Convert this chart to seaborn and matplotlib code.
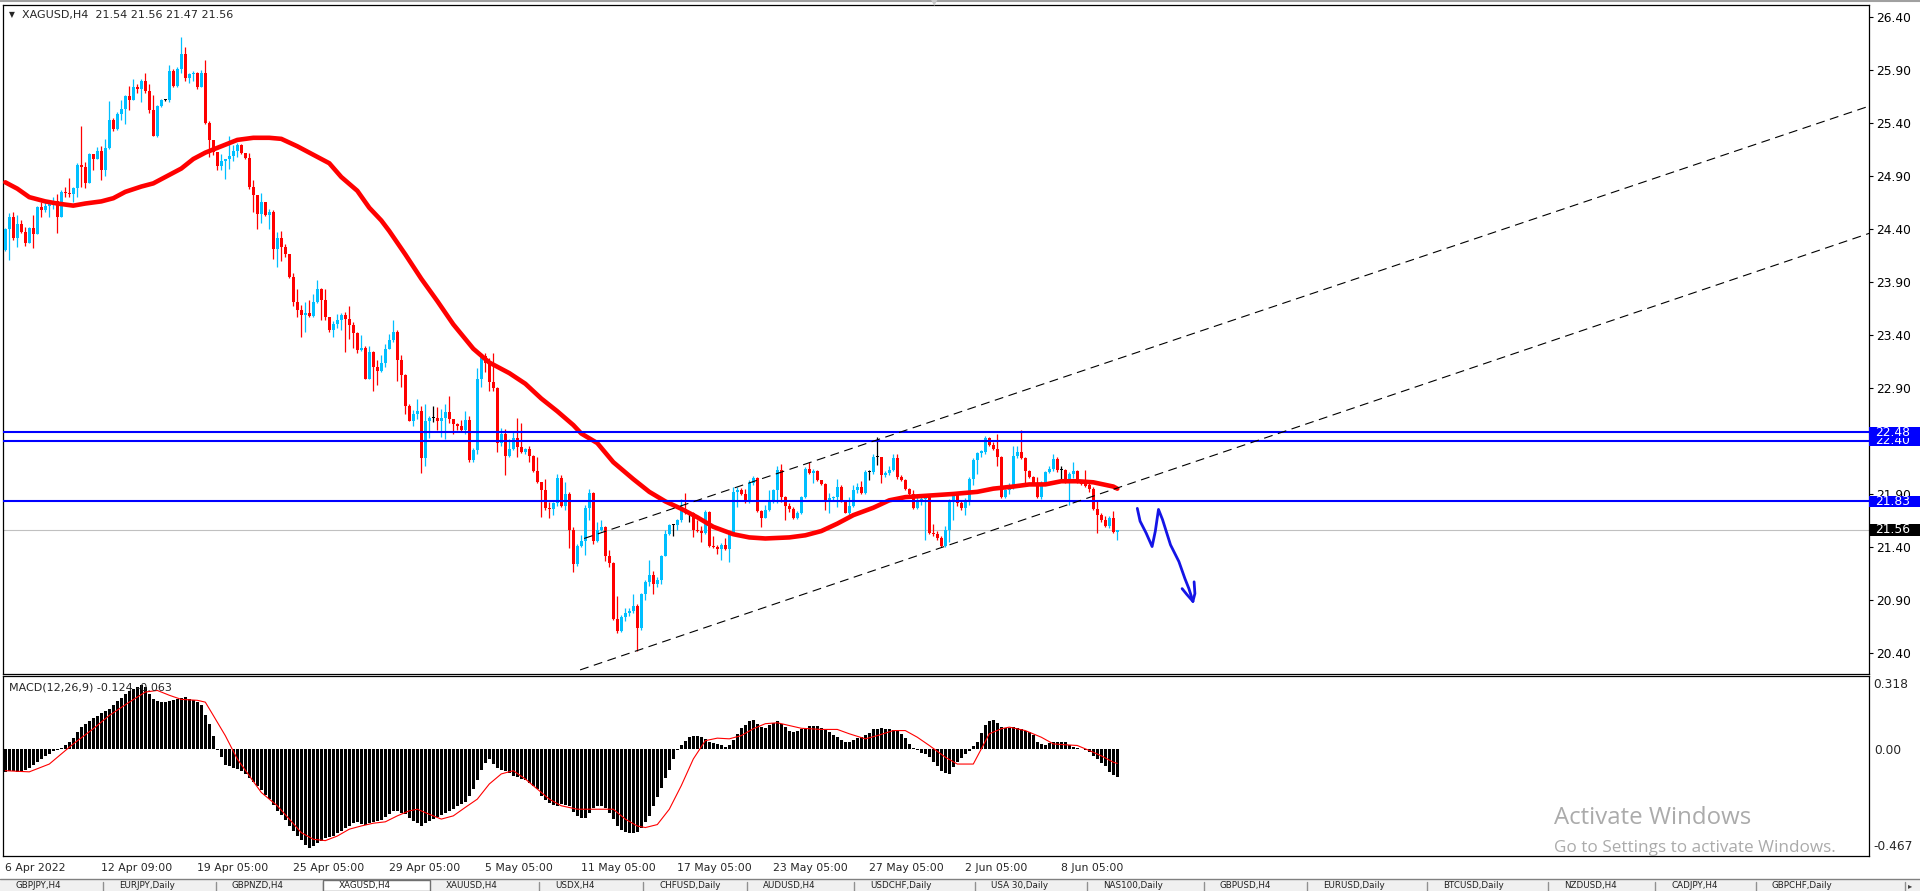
import numpy as np
import matplotlib
matplotlib.use("Agg")
import matplotlib.pyplot as plt
import matplotlib.transforms as mtransforms
from matplotlib.patches import Rectangle
from matplotlib.lines import Line2D
import seaborn as sns

# ---------------- data (XAGUSD H4, bar 0 = 6 Apr 2022) ----------------
first_open = 24.20
closes = [
    24.40, 24.51, 24.31, 24.45, 24.37, 24.27, 24.41, 24.35, 24.61, 24.58,
    24.62, 24.65, 24.66, 24.51, 24.75, 24.74, 24.73, 24.79, 25.00, 24.98,
    24.83, 25.11, 25.06, 25.14, 24.96, 25.16, 25.43, 25.34, 25.48, 25.53,
    25.65, 25.62, 25.74, 25.72, 25.80, 25.70, 25.52, 25.28, 25.56, 25.62,
    25.62, 25.89, 25.75, 25.91, 26.05, 25.82, 25.86, 25.87, 25.74, 25.87,
    25.40, 25.24, 25.13, 24.99, 25.04, 25.06, 25.09, 25.14, 25.19, 25.12,
    25.07, 24.80, 24.72, 24.54, 24.65, 24.53, 24.56, 24.21, 24.31, 24.23,
    24.16, 23.95, 23.71, 23.64, 23.59, 23.61, 23.58, 23.71, 23.83, 23.73,
    23.57, 23.45, 23.50, 23.54, 23.59, 23.55, 23.49, 23.42, 23.26, 23.28,
    22.98, 23.24, 23.10, 23.06, 23.14, 23.27, 23.35, 23.43, 23.16, 23.02,
    22.73, 22.59, 22.65, 22.68, 22.24, 22.59, 22.62, 22.62, 22.59, 22.62,
    22.67, 22.61, 22.56, 22.54, 22.50, 22.60, 22.22, 22.31, 22.98, 23.20,
    23.14, 22.96, 22.90, 22.38, 22.47, 22.26, 22.32, 22.43, 22.34, 22.30,
    22.32, 22.26, 22.12, 22.01, 21.94, 21.77, 21.76, 21.81, 22.05, 21.79,
    21.90, 21.56, 21.24, 21.41, 21.46, 21.77, 21.91, 21.46, 21.56, 21.59,
    21.31, 21.25, 20.72, 20.61, 20.74, 20.78, 20.80, 20.84, 20.64, 20.96,
    21.07, 21.14, 21.05, 21.09, 21.31, 21.52, 21.61, 21.61, 21.65, 21.76,
    21.72, 21.72, 21.56, 21.55, 21.53, 21.73, 21.41, 21.40, 21.38, 21.42,
    21.38, 21.52, 21.92, 21.94, 21.90, 21.82, 22.00, 22.05, 21.74, 21.67,
    21.75, 21.82, 21.94, 22.13, 21.87, 21.79, 21.76, 21.67, 21.72, 21.87,
    22.14, 22.10, 22.12, 22.03, 21.99, 21.84, 21.86, 21.87, 21.97, 21.82,
    21.72, 21.79, 21.94, 21.97, 21.91, 22.11, 22.11, 22.25, 22.25, 22.08,
    22.10, 22.13, 22.24, 22.06, 22.03, 21.95, 21.90, 21.77, 21.83, 21.85,
    21.87, 21.53, 21.52, 21.48, 21.41, 21.56, 21.84, 21.91, 21.81, 21.77,
    21.84, 22.04, 22.22, 22.29, 22.30, 22.43, 22.36, 22.32, 22.25, 21.87,
    21.94, 21.97, 22.26, 22.30, 22.24, 22.12, 22.06, 22.00, 21.87, 22.00,
    22.11, 22.14, 22.23, 22.13, 22.13, 22.02, 22.09, 22.12, 22.01, 21.99,
    21.98, 21.95, 21.76, 21.70, 21.65, 21.60, 21.67, 21.54, 21.56,
]
highs = [
    24.41, 24.55, 24.56, 24.53, 24.48, 24.42, 24.42, 24.53, 24.62, 24.65,
    24.67, 24.67, 24.70, 24.73, 24.77, 24.80, 24.88, 24.80, 25.02, 25.37,
    25.03, 25.12, 25.11, 25.17, 25.18, 25.25, 25.61, 25.45, 25.50, 25.62,
    25.66, 25.75, 25.81, 25.77, 25.81, 25.87, 25.77, 25.66, 25.57, 25.63,
    25.63, 25.95, 25.91, 25.93, 26.21, 26.12, 25.87, 25.89, 25.88, 25.90,
    25.99, 25.42, 25.24, 25.13, 25.11, 25.06, 25.28, 25.19, 25.21, 25.20,
    25.12, 25.12, 24.86, 24.72, 24.74, 24.65, 24.59, 24.58, 24.37, 24.38,
    24.26, 24.16, 23.98, 23.83, 23.68, 23.71, 23.73, 23.79, 23.92, 23.84,
    23.83, 23.57, 23.53, 23.60, 23.61, 23.62, 23.67, 23.52, 23.43, 23.40,
    23.30, 23.30, 23.25, 23.16, 23.21, 23.31, 23.41, 23.54, 23.45, 23.21,
    23.03, 22.75, 22.69, 22.80, 22.73, 22.75, 22.64, 22.73, 22.72, 22.70,
    22.75, 22.82, 22.61, 22.57, 22.60, 22.68, 22.64, 22.33, 23.09, 23.23,
    23.23, 23.18, 23.23, 22.91, 22.52, 22.51, 22.42, 22.49, 22.62, 22.57,
    22.33, 22.35, 22.27, 22.25, 22.01, 22.04, 21.82, 21.82, 22.09, 22.08,
    22.01, 21.92, 21.59, 21.43, 21.51, 21.80, 21.95, 21.92, 21.64, 21.65,
    21.60, 21.37, 21.26, 20.94, 20.76, 20.82, 20.82, 20.96, 20.86, 20.97,
    21.09, 21.28, 21.17, 21.12, 21.32, 21.56, 21.62, 21.62, 21.66, 21.85,
    21.91, 21.73, 21.73, 21.65, 21.60, 21.75, 21.74, 21.50, 21.42, 21.44,
    21.48, 21.53, 21.97, 21.97, 21.96, 21.95, 22.03, 22.07, 22.06, 21.75,
    21.80, 21.94, 21.95, 22.16, 22.18, 21.88, 21.81, 21.78, 21.74, 21.88,
    22.15, 22.20, 22.14, 22.13, 22.03, 22.00, 21.91, 21.88, 22.04, 21.98,
    21.84, 21.87, 21.98, 22.00, 22.02, 22.13, 22.13, 22.28, 22.44, 22.25,
    22.12, 22.16, 22.28, 22.28, 22.08, 22.04, 21.96, 21.94, 21.87, 21.87,
    21.88, 21.87, 21.62, 21.55, 21.50, 21.60, 21.85, 21.92, 21.92, 21.84,
    21.86, 22.06, 22.24, 22.30, 22.31, 22.45, 22.44, 22.39, 22.47, 22.26,
    21.95, 22.00, 22.35, 22.35, 22.50, 22.25, 22.13, 22.07, 22.06, 22.02,
    22.12, 22.16, 22.28, 22.25, 22.16, 22.14, 22.11, 22.20, 22.13, 22.03,
    22.13, 22.00, 21.97, 21.83, 21.72, 21.69, 21.69, 21.74, 21.56,
]
lows = [
    24.19, 24.11, 24.30, 24.23, 24.36, 24.24, 24.27, 24.22, 24.35, 24.51,
    24.56, 24.51, 24.59, 24.36, 24.53, 24.70, 24.70, 24.65, 24.70, 24.80,
    24.79, 24.83, 24.96, 25.06, 24.86, 24.90, 25.15, 25.32, 25.33, 25.43,
    25.39, 25.52, 25.62, 25.68, 25.60, 25.68, 25.49, 25.28, 25.27, 25.55,
    25.61, 25.60, 25.74, 25.74, 25.87, 25.80, 25.78, 25.80, 25.72, 25.74,
    25.39, 25.08, 25.10, 24.96, 24.96, 24.87, 24.97, 25.04, 25.08, 25.11,
    25.06, 24.78, 24.56, 24.40, 24.46, 24.52, 24.40, 24.12, 24.04, 24.10,
    24.14, 23.94, 23.67, 23.57, 23.38, 23.43, 23.57, 23.57, 23.70, 23.54,
    23.54, 23.43, 23.38, 23.47, 23.45, 23.24, 23.36, 23.28, 23.23, 23.25,
    22.98, 22.98, 22.87, 22.93, 23.05, 23.10, 23.27, 23.33, 22.97, 22.91,
    22.65, 22.59, 22.54, 22.61, 22.10, 22.16, 22.43, 22.58, 22.50, 22.44,
    22.42, 22.57, 22.47, 22.50, 22.49, 22.47, 22.20, 22.20, 22.28, 22.91,
    23.05, 22.87, 22.87, 22.30, 22.35, 22.08, 22.25, 22.31, 22.25, 22.29,
    22.28, 22.20, 22.11, 22.00, 21.68, 21.75, 21.67, 21.70, 21.79, 21.78,
    21.75, 21.39, 21.16, 21.22, 21.40, 21.32, 21.65, 21.43, 21.45, 21.55,
    21.27, 21.21, 20.71, 20.59, 20.60, 20.70, 20.75, 20.78, 20.42, 20.62,
    20.90, 21.03, 20.96, 21.02, 21.05, 21.31, 21.51, 21.50, 21.56, 21.64,
    21.71, 21.64, 21.49, 21.54, 21.45, 21.52, 21.40, 21.39, 21.33, 21.28,
    21.37, 21.26, 21.51, 21.78, 21.89, 21.81, 21.81, 21.98, 21.73, 21.59,
    21.67, 21.74, 21.81, 21.81, 21.82, 21.65, 21.73, 21.66, 21.66, 21.71,
    21.86, 22.09, 22.00, 22.02, 21.98, 21.75, 21.72, 21.84, 21.78, 21.82,
    21.72, 21.70, 21.78, 21.91, 21.90, 21.90, 22.03, 22.09, 22.17, 22.00,
    22.06, 22.08, 22.12, 22.04, 22.02, 21.94, 21.89, 21.76, 21.76, 21.80,
    21.47, 21.52, 21.50, 21.47, 21.40, 21.40, 21.45, 21.65, 21.79, 21.75,
    21.70, 21.80, 21.98, 22.09, 22.25, 22.28, 22.35, 22.31, 22.16, 21.86,
    21.86, 21.90, 21.95, 22.24, 22.23, 22.00, 22.05, 21.99, 21.86, 21.85,
    21.98, 22.10, 22.12, 22.11, 22.02, 22.00, 21.80, 22.05, 22.00, 21.98,
    21.97, 21.92, 21.75, 21.53, 21.64, 21.59, 21.58, 21.53, 21.47,
]

# thick red moving average, read at sample bars
ma_idx = [0, 3, 6, 10, 13, 17, 20, 24, 27, 30, 34, 37, 40, 44, 47, 50, 54, 58, 62, 66,
          69, 73, 77, 81, 84, 88, 91, 94, 96, 100, 104, 108, 112, 117, 121, 126, 130, 134,
          138, 142, 144, 148, 152, 157, 161, 165, 169, 173, 177, 182, 186, 190, 196, 200,
          204, 208, 212, 217, 221, 225, 229, 233, 237, 243, 247, 252, 256, 260, 264, 268,
          272, 277, 278]
ma_val = [24.84, 24.78, 24.70, 24.66, 24.64, 24.62, 24.64, 24.66, 24.69, 24.75, 24.80,
          24.83, 24.89, 24.97, 25.06, 25.12, 25.18, 25.24, 25.26, 25.26, 25.25, 25.18,
          25.10, 25.02, 24.89, 24.76, 24.60, 24.48, 24.38, 24.16, 23.93, 23.72, 23.50,
          23.27, 23.14, 23.04, 22.94, 22.80, 22.68, 22.55, 22.47, 22.38, 22.20, 22.04,
          21.92, 21.83, 21.76, 21.68, 21.59, 21.52, 21.49, 21.48, 21.49, 21.51, 21.55,
          21.62, 21.70, 21.77, 21.84, 21.87, 21.88, 21.89, 21.90, 21.92, 21.95, 21.97,
          21.99, 21.99, 22.02, 22.02, 22.01, 21.97, 21.95]

# MACD(12,26,9) histogram, one value per bar
macd_hist = [
    -0.100, -0.097, -0.096, -0.100, -0.097, -0.090, -0.082, -0.070, -0.057, -0.043,
    -0.032, -0.020, -0.010, -0.004, 0.003, 0.015, 0.030, 0.047, 0.072, 0.095,
    0.110, 0.123, 0.134, 0.142, 0.155, 0.166, 0.174, 0.192, 0.210, 0.223,
    0.238, 0.252, 0.262, 0.270, 0.277, 0.268, 0.240, 0.216, 0.209, 0.206,
    0.204, 0.209, 0.214, 0.219, 0.224, 0.225, 0.219, 0.214, 0.205, 0.190,
    0.150, 0.110, 0.055, -0.005, -0.035, -0.068, -0.076, -0.082, -0.087, -0.095,
    -0.108, -0.126, -0.145, -0.160, -0.180, -0.200, -0.220, -0.245, -0.270, -0.290,
    -0.310, -0.335, -0.358, -0.380, -0.398, -0.418, -0.430, -0.422, -0.412, -0.400,
    -0.390, -0.384, -0.378, -0.368, -0.358, -0.343, -0.334, -0.325, -0.320, -0.327,
    -0.330, -0.324, -0.320, -0.315, -0.308, -0.296, -0.285, -0.270, -0.272, -0.278,
    -0.285, -0.300, -0.316, -0.325, -0.336, -0.325, -0.316, -0.306, -0.295, -0.287,
    -0.279, -0.270, -0.263, -0.250, -0.240, -0.230, -0.205, -0.175, -0.135, -0.090,
    -0.060, -0.044, -0.065, -0.085, -0.090, -0.098, -0.105, -0.117, -0.122, -0.130,
    -0.137, -0.148, -0.160, -0.175, -0.205, -0.222, -0.238, -0.244, -0.248, -0.242,
    -0.244, -0.250, -0.275, -0.292, -0.300, -0.302, -0.280, -0.257, -0.248, -0.250,
    -0.256, -0.280, -0.305, -0.335, -0.355, -0.364, -0.368, -0.367, -0.362, -0.345,
    -0.318, -0.292, -0.250, -0.210, -0.170, -0.125, -0.090, -0.044, -0.005, 0.015,
    0.036, 0.050, 0.055, 0.055, 0.050, 0.043, 0.030, 0.027, 0.022, 0.016,
    0.010, 0.015, 0.040, 0.065, 0.090, 0.106, 0.120, 0.128, 0.108, 0.095,
    0.090, 0.105, 0.115, 0.120, 0.110, 0.095, 0.080, 0.075, 0.076, 0.087,
    0.093, 0.098, 0.102, 0.098, 0.092, 0.082, 0.072, 0.062, 0.053, 0.040,
    0.032, 0.032, 0.040, 0.047, 0.053, 0.060, 0.070, 0.085, 0.089, 0.090,
    0.089, 0.086, 0.081, 0.080, 0.065, 0.047, 0.020, 0.005, -0.006, -0.018,
    -0.024, -0.036, -0.055, -0.075, -0.095, -0.105, -0.109, -0.080, -0.055, -0.040,
    -0.022, -0.008, 0.012, 0.028, 0.070, 0.105, 0.120, 0.124, 0.115, 0.095,
    0.090, 0.090, 0.095, 0.090, 0.086, 0.080, 0.072, 0.062, 0.030, 0.020,
    0.018, 0.026, 0.030, 0.032, 0.032, 0.028, 0.018, 0.010, 0.004, 0.000,
    -0.005, -0.012, -0.030, -0.044, -0.060, -0.075, -0.100, -0.112, -0.124,
]
# MACD signal line, read at sample bars
sig_idx = [0, 6, 11, 14, 17, 22, 26, 31, 35, 38, 41, 44, 48, 50, 52, 55, 58, 61, 64, 68,
           71, 74, 77, 80, 83, 86, 89, 92, 95, 98, 101, 103, 106, 109, 112, 115, 118, 121,
           124, 127, 130, 133, 136, 139, 143, 146, 149, 152, 155, 158, 160, 163, 166, 169,
           172, 175, 178, 181, 184, 187, 190, 193, 196, 199, 204, 208, 211, 215, 218, 222,
           225, 228, 231, 235, 238, 242, 244, 246, 249, 251, 255, 259, 262, 265, 268, 271,
           274, 277, 278]
sig_val = [-0.095, -0.100, -0.066, -0.022, 0.022, 0.088, 0.146, 0.204, 0.248, 0.255,
           0.234, 0.216, 0.212, 0.204, 0.146, 0.058, -0.044, -0.117, -0.190, -0.248,
           -0.306, -0.365, -0.394, -0.400, -0.380, -0.350, -0.336, -0.324, -0.318, -0.292,
           -0.270, -0.263, -0.285, -0.306, -0.292, -0.255, -0.219, -0.153, -0.109, -0.095,
           -0.131, -0.175, -0.219, -0.248, -0.263, -0.263, -0.263, -0.263, -0.306, -0.336,
           -0.343, -0.330, -0.263, -0.160, -0.044, 0.036, 0.047, 0.044, 0.058, 0.088,
           0.110, 0.114, 0.102, 0.090, 0.085, 0.085, 0.066, 0.044, 0.058, 0.080,
           0.080, 0.051, 0.015, -0.036, -0.066, -0.066, 0.000, 0.066, 0.088, 0.095,
           0.080, 0.051, 0.022, 0.018, 0.015, -0.007, -0.030, -0.058, -0.063]

time_ticks = [0, 24, 48, 72, 96, 120, 144, 168, 192, 216, 240, 264]
time_labels = ['6 Apr 2022', '12 Apr 09:00', '19 Apr 05:00', '25 Apr 05:00', '29 Apr 05:00',
               '5 May 05:00', '11 May 05:00', '17 May 05:00', '23 May 05:00',
               '27 May 05:00', '2 Jun 05:00', '8 Jun 05:00']
price_ticks = [20.40, 20.90, 21.40, 21.90, 22.40, 22.90, 23.40, 23.90, 24.40, 24.90,
               25.40, 25.90, 26.40]
macd_max, macd_min = 0.318, -0.467
level_lines = [22.40, 22.48, 21.83]
bid_price = 21.56

# channel lines (bar index, price)
upper_chan_x, upper_chan_y = [144.7, 470.0], [21.48, 25.61]
lower_chan_x, lower_chan_y = [143.7, 470.0], [20.24, 24.41]

# hand drawn blue arrow (bar index, price)
arrow_x = [283.0, 283.7, 285.2, 286.7, 287.5, 288.3, 289.3, 291.3, 293.4, 294.9, 295.9, 296.9]
arrow_y = [21.764, 21.643, 21.532, 21.404, 21.548, 21.754, 21.659, 21.420, 21.262, 21.102,
           21.007, 20.887]
head_l_x, head_l_y = [294.2, 295.4, 296.9], [21.007, 20.951, 20.887]
head_r_x, head_r_y = [297.2, 297.4, 296.9], [21.071, 20.960, 20.887]

tab_names = ['GBPJPY,H4', 'EURJPY,Daily', 'GBPNZD,H4', 'XAGUSD,H4', 'XAUUSD,H4', 'USDX,H4',
             'CHFUSD,Daily', 'AUDUSD,H4', 'USDCHF,Daily', 'USA 30,Daily', 'NAS100,Daily',
             'GBPUSD,H4', 'EURUSD,Daily', 'BTCUSD,Daily', 'NZDUSD,H4', 'CADJPY,H4',
             'GBPCHF,Daily']
active_tab = 3

# ---------------- style ----------------
sns.set_style("white")
plt.rcParams['font.family'] = ['DejaVu Sans']
BULL = '#00BFFF'
BEAR = '#FF0000'
LEVEL = '#0000FF'

W, H = 1920, 891
fig = plt.figure(figsize=(W / 100, H / 100), dpi=100)
fig.patch.set_facecolor('white')


def fx(px):
    return px / W


def fy(py):
    return 1 - py / H


ax = fig.add_axes([fx(3), fy(674), (1869 - 3) / W, (674 - 5) / H])
axm = fig.add_axes([fx(3), fy(856), (1869 - 3) / W, (856 - 676) / H], sharex=ax)

# ---------------- candles ----------------
idx = np.arange(len(closes))
c = np.array(closes)
o = np.concatenate([[first_open], c[:-1]])
hi = np.maximum(np.array(highs), np.maximum(o, c))
lo = np.minimum(np.array(lows), np.minimum(o, c))
colors = np.where(c > o, BULL, np.where(c < o, BEAR, 'black'))
ax.vlines(idx, lo, hi, colors=colors, linewidth=0.9, zorder=3)
body = np.maximum(np.abs(c - o), 0.012)
ax.bar(idx, body, bottom=np.minimum(o, c) - (body - np.abs(c - o)) / 2, width=0.7,
       color=colors, linewidth=0, zorder=3)

# moving average
sns.lineplot(x=ma_idx, y=ma_val, ax=ax, color='#FF0000', linewidth=3.3, legend=False,
             zorder=4)

# levels, bid line, channel, arrow
ax.axhline(bid_price, color='#C0C0C0', linewidth=0.8, zorder=2)
for lv in level_lines:
    ax.axhline(lv, color=LEVEL, linewidth=1.5, zorder=5)
ax.plot(upper_chan_x, upper_chan_y, color='black', linewidth=0.8, ls=(0, (8, 5)), zorder=5)
ax.plot(lower_chan_x, lower_chan_y, color='black', linewidth=0.8, ls=(0, (8, 5)), zorder=5)
for xs, ys in [(arrow_x, arrow_y), (head_l_x, head_l_y), (head_r_x, head_r_y)]:
    ax.plot(xs, ys, color='#1414E6', linewidth=2.0, solid_capstyle='round',
            solid_joinstyle='round', zorder=6)

ax.set_xlim(-0.575, 465.925)
ax.set_ylim(20.2015, 26.5128)
ax.yaxis.tick_right()
ax.set_yticks(price_ticks)
ax.set_yticklabels([f'{v:.2f}' for v in price_ticks])
ax.tick_params(axis='y', direction='out', length=3, width=0.8, pad=2, labelsize=8.8,
               colors='black')
ax.tick_params(axis='x', bottom=False, labelbottom=False)
for s in ax.spines.values():
    s.set_color('black')
    s.set_linewidth(0.9)

# coloured price boxes on the scale
trans = mtransforms.blended_transform_factory(ax.transAxes, ax.transData)
box_w = (1920 - 1869) / 1866
z = 10
for lv, fc in [(22.40, LEVEL), (22.48, LEVEL), (21.83, LEVEL), (bid_price, 'black')]:
    ax.add_patch(Rectangle((1.0, lv - 0.052), box_w, 0.104, transform=trans, fc=fc,
                           ec='none', clip_on=False, zorder=z))
    ax.text(1.0 + 6 / 1866, lv, f'{lv:.2f}', transform=trans, color='white', fontsize=8.8,
            va='center', ha='left', clip_on=False, zorder=z + 1)
    z += 2

# ---------------- MACD ----------------
axm.bar(idx, macd_hist, width=0.7, color='black', linewidth=0, zorder=3)
sns.lineplot(x=sig_idx, y=sig_val, ax=axm, color='#FF0000', linewidth=0.8, legend=False,
             zorder=4)
axm.set_ylim(macd_min, macd_max)
axm.yaxis.tick_right()
axm.set_yticks([0.0])
axm.set_yticklabels(['0.00'])
axm.tick_params(axis='y', direction='out', length=0, pad=4, labelsize=8.8)
tm = mtransforms.blended_transform_factory(axm.transAxes, axm.transAxes)
axm.text(1.0 + 4 / 1866, 1 - 9 / 180, f'{macd_max:.3f}', transform=tm, fontsize=8.8,
         va='center', ha='left', clip_on=False)
axm.text(1.0 + 4 / 1866, 9 / 180, f'{macd_min:.3f}', transform=tm, fontsize=8.8,
         va='center', ha='left', clip_on=False)
axm.set_xticks(time_ticks)
axm.set_xticklabels(time_labels)
for t in axm.get_xticklabels():
    t.set_ha('left')
axm.tick_params(axis='x', direction='out', length=3, width=0.8, pad=2, labelsize=7.8)
axm.set_xlabel('')
axm.set_ylabel('')
ax.set_xlabel('')
ax.set_ylabel('')
for s in axm.spines.values():
    s.set_color('black')
    s.set_linewidth(0.9)

# ---------------- header texts ----------------
fig.text(fx(9), fy(15), '\u25BC', fontsize=5.5, va='center', ha='left')
fig.text(fx(22), fy(15), f'XAGUSD,H4  {o[-1]:.2f} {hi[-1]:.2f} {lo[-1]:.2f} {c[-1]:.2f}',
         fontsize=8, va='center', ha='left')
fig.text(fx(934), fy(3), '\u25BC', fontsize=6, color='#C8C8C8', va='center', ha='center')
fig.text(fx(9), fy(688), f'MACD(12,26,9) {macd_hist[-1]:.3f} {sig_val[-1]:.3f}',
         fontsize=8, va='center', ha='left')
fig.add_artist(Line2D([0, 1], [fy(0.5), fy(0.5)], color='#A0A0A0', linewidth=1.5))

# windows watermark
fig.text(fx(1554), fy(818), 'Activate Windows', fontsize=17.3, color='#ABABAB',
         va='center', ha='left', family=['Open Sans', 'DejaVu Sans'])
fig.text(fx(1554), fy(848), 'Go to Settings to activate Windows.', fontsize=12.3,
         color='#ABABAB', va='center', ha='left', family=['Open Sans', 'DejaVu Sans'])

# ---------------- tab bar ----------------
tab_edges = [0, 103, 216, 323, 430, 539, 643, 747, 854, 975, 1087, 1204, 1307, 1427, 1548,
             1655, 1756, 1905]
fig.add_artist(Rectangle((0, 0), 1, (H - 879) / H, transform=fig.transFigure,
                         fc='#F0F0F0', ec='none', zorder=1))
fig.add_artist(Line2D([0, 1], [fy(879), fy(879)], color='#808080', linewidth=1.0, zorder=2))
for k, name in enumerate(tab_names):
    x0, x1 = tab_edges[k], tab_edges[k + 1]
    if k == active_tab:
        fig.add_artist(Rectangle((fx(x0), 0), (x1 - x0) / W, (H - 880) / H,
                                 transform=fig.transFigure, fc='white', ec='#707070',
                                 linewidth=1.0, zorder=3))
    else:
        fig.add_artist(Line2D([fx(x1), fx(x1)], [0, fy(882)], color='#909090',
                              linewidth=1.0, zorder=2))
    fig.text(fx(x0 + 16), fy(885.5), name, fontsize=6.3, va='center', ha='left',
             color='#202020', zorder=4)
fig.text(fx(1910), fy(885.5), '\u25B8', fontsize=6, va='center', ha='center',
         color='#404040')

fig.savefig('out.png', dpi=100)
